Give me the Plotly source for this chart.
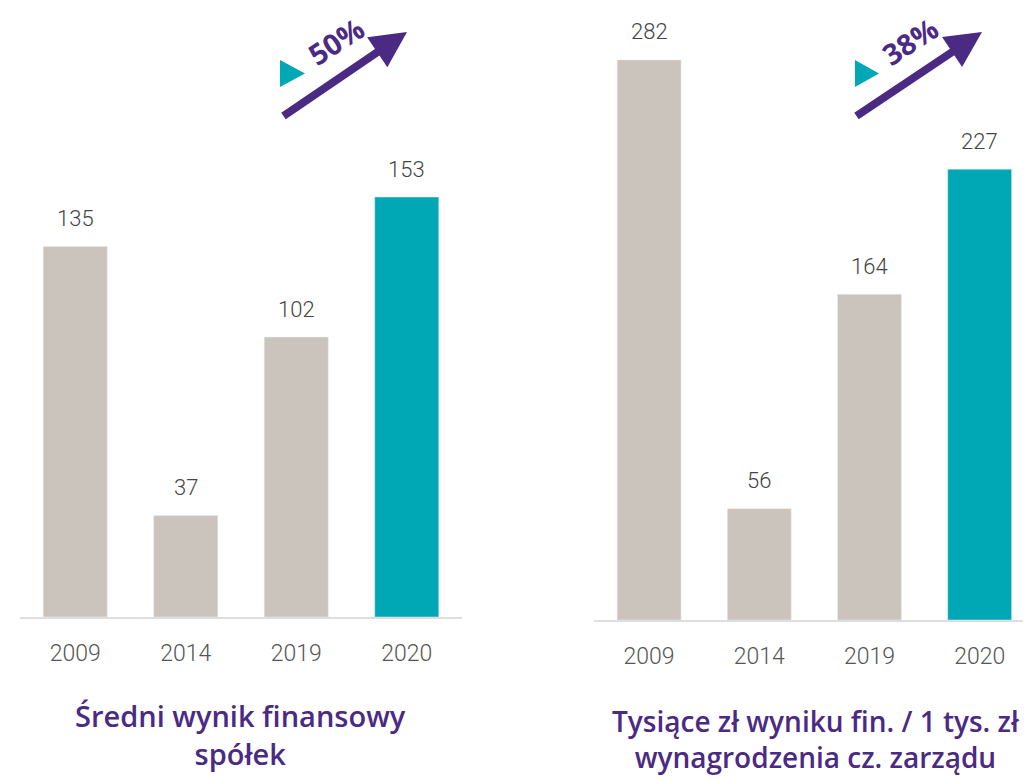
import plotly.graph_objects as go

W, H = 1031, 782
OFF = 8  # page body margin shifts the figure

YEARS = ["2009", "2014", "2019", "2020"]
AVG_RESULT = [135, 37, 102, 153]
RESULT_PER_PAY = [282, 56, 164, 227]
LEFT_TITLE = "Średni wynik finansowy<br>spółek"
RIGHT_TITLE = "Tysiące zł wyniku fin. / 1 tys. zł<br>wynagrodzenia cz. zarządu"
LEFT_GROWTH = "50%"
RIGHT_GROWTH = "38%"

GRAY_BAR = "#cbc4bd"
TEAL = "#00a7b5"
PURPLE = "#4b2a84"
TEXT_GRAY = "#444444"
TICK_GRAY = "#555555"
LINE_GRAY = "#dedede"
TITLE_FONT = "'Open Sans', sans-serif"
LIGHT_FONT = "Roboto, 'Open Sans', sans-serif"


def px(x):
    return (x - OFF) / W


def py(y):
    return 1 - (y - OFF) / H


def bar_colors(n):
    return [GRAY_BAR] * (n - 1) + [TEAL]


idx = list(range(len(YEARS)))

fig = go.Figure()
fig.add_trace(go.Bar(x=idx, y=AVG_RESULT, marker_color=bar_colors(len(YEARS)),
                     width=0.58, xaxis="x", yaxis="y", showlegend=False))
fig.add_trace(go.Bar(x=idx, y=RESULT_PER_PAY, marker_color=bar_colors(len(YEARS)),
                     width=0.58, xaxis="x2", yaxis="y2", showlegend=False))

annotations = []
for xref, yref, values in (("x", "y", AVG_RESULT), ("x2", "y2", RESULT_PER_PAY)):
    for i, val in zip(idx, values):
        annotations.append(dict(
            x=i, y=val, xref=xref, yref=yref, text=str(val), showarrow=False,
            yshift=28, xanchor="center", yanchor="middle",
            font=dict(family=LIGHT_FONT, size=22, color=TEXT_GRAY, weight=300),
        ))

# chart titles
annotations.append(dict(x=px(240), y=py(734), xref="paper", yref="paper", text=LEFT_TITLE,
                        showarrow=False, xanchor="center", yanchor="middle",
                        font=dict(family=TITLE_FONT, size=29, color=PURPLE, weight=600)))
annotations.append(dict(x=px(816), y=py(739), xref="paper", yref="paper", text=RIGHT_TITLE,
                        showarrow=False, xanchor="center", yanchor="middle",
                        font=dict(family=TITLE_FONT, size=28, color=PURPLE, weight=600)))

shapes = []
for (tail, tip, tri, label_pos, label) in (
    ((282, 117), (407, 32), (280, 60, 305, 87), (335, 41), LEFT_GROWTH),
    ((855, 117), (982, 32), (855, 60, 879, 87), (909, 41), RIGHT_GROWTH),
):
    annotations.append(dict(
        x=px(tip[0]), y=py(tip[1]), xref="paper", yref="paper",
        ax=tail[0] - tip[0], ay=tail[1] - tip[1], axref="pixel", ayref="pixel",
        text="", showarrow=True, arrowhead=2, arrowsize=0.9, arrowwidth=8,
        arrowcolor=PURPLE, standoff=0,
    ))
    annotations.append(dict(
        x=px(label_pos[0]), y=py(label_pos[1]), xref="paper", yref="paper",
        text=f"<b>{label}</b>", showarrow=False, textangle=-33,
        xanchor="center", yanchor="middle",
        font=dict(family=TITLE_FONT, size=29, color=PURPLE),
    ))
    x0, y0, x1, y1 = tri
    ym = (y0 + y1) / 2
    shapes.append(dict(
        type="path", xref="paper", yref="paper",
        path=f"M {px(x0)},{py(y0)} L {px(x1)},{py(ym)} L {px(x0)},{py(y1)} Z",
        fillcolor=TEAL, line=dict(width=0),
    ))

axis_common = dict(
    tickmode="array", tickvals=idx, ticktext=YEARS,
    showgrid=False, zeroline=False, showline=True,
    linecolor=LINE_GRAY, linewidth=2, ticks="", ticklabelstandoff=14,
    tickfont=dict(family=LIGHT_FONT, size=23, color=TICK_GRAY, weight=300),
)
yaxis_common = dict(visible=False, showgrid=False, zeroline=False)

fig.update_layout(
    width=W, height=H,
    margin=dict(l=0, r=0, t=0, b=0),
    paper_bgcolor="white", plot_bgcolor="white",
    xaxis=dict(domain=[px(20), px(462)], anchor="y", range=[-0.5, 3.5], **axis_common),
    yaxis=dict(domain=[py(617), 1], range=[0, (617 - OFF) / 2.745], anchor="x", **yaxis_common),
    xaxis2=dict(domain=[px(594), px(1031)], anchor="y2", range=[-0.5, 3.466], **axis_common),
    yaxis2=dict(domain=[py(620), 1], range=[0, (620 - OFF) / 1.986], anchor="x2", **yaxis_common),
    annotations=annotations,
    shapes=shapes,
)

fig.write_html("out.html")
